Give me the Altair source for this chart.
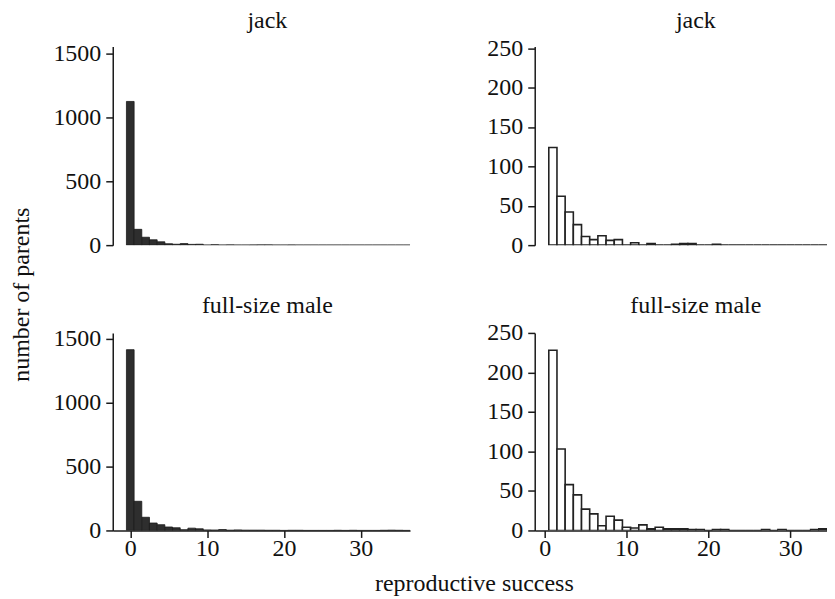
import altair as alt
import pandas as pd

# reproductive success bins (integer values)
rs_bins = [0, 1, 2, 3, 4, 5, 6, 7, 8, 9, 10, 11, 12, 13, 14, 15, 16, 17, 18,
           19, 20, 21, 22, 23, 24, 25, 26, 27, 28, 29, 30, 31, 32, 33, 34, 35, 36]
# number of parents per bin
jack_counts = [1127, 124, 62, 42, 26, 11, 7, 12, 6, 7, 0, 3, 0, 2, 0, 0, 1, 2, 2,
               0, 0, 1, 0, 0, 0, 0, 0, 0, 0, 0, 0, 0, 0, 0, 0, 0, 0]
full_counts = [1414, 228, 103, 58, 45, 27, 21, 6, 18, 13, 4, 3, 7, 2, 4, 2, 2, 2, 1,
               1, 0, 1, 1, 0, 0, 0, 0, 1, 0, 1, 0, 0, 0, 1, 2, 1, 0]
x_ticks = [0, 10, 20, 30]
left_y_ticks = [0, 500, 1000, 1500]
right_y_ticks = [0, 50, 100, 150, 200, 250]

FONT = "Liberation Serif"
FS = 24
INK = "#111111"


def panel(counts, title, dark, ymax, yticks, show_x, xdom, start, w, h, tdx, tdy):
    df = pd.DataFrame({"rs": rs_bins[start:], "n": counts[start:]})
    if show_x:
        xaxis = alt.Axis(values=x_ticks, format="d", tickSize=7, tickWidth=1.5, domainWidth=1.5,
                         domainColor="#1a1a1a", tickColor="#1a1a1a", labelPadding=-1,
                         labelFont=FONT, labelFontSize=FS, labelColor=INK,
                         grid=False, title=None)
    else:
        xaxis = None
    yaxis = alt.Axis(values=yticks, format="d", tickSize=7, tickWidth=1.5, domainWidth=1.5,
                     domainColor="#1a1a1a", tickColor="#1a1a1a", labelPadding=5,
                     labelFont=FONT, labelFontSize=FS, labelColor=INK,
                     grid=False, title=None)
    if dark:
        mk = dict(fill="#2e2e2e", stroke="#1a1a1a", strokeWidth=0.8)
    else:
        mk = dict(fill="white", stroke="#222222", strokeWidth=1.6)
    return (
        alt.Chart(df)
        .transform_calculate(lo="datum.rs - 0.5", hi="datum.rs + 0.5")
        .mark_bar(clip=True, **mk)
        .encode(
            x=alt.X("lo:Q", scale=alt.Scale(domain=xdom, nice=False, zero=False), axis=xaxis),
            x2="hi:Q",
            y=alt.Y("n:Q", scale=alt.Scale(domain=[0, ymax], nice=False), axis=yaxis),
            y2=alt.datum(0),
        )
        .properties(
            width=w,
            height=h,
            title=alt.TitleParams(title, font=FONT, fontSize=FS, fontWeight="normal",
                                  color=INK, anchor="middle", frame="group",
                                  offset=0, dx=tdx, dy=tdy),
        )
    )


tl = panel(jack_counts, "jack", True, 1557, left_y_ticks, False, [-2.28, 36.4], 0, 298, 199, 6, -9)
tr = panel(jack_counts, "jack", False, 252, right_y_ticks, False, [-1.22, 34.5], 1, 293, 199, 15, -3)
bl = panel(full_counts, "full-size male", True, 1545, left_y_ticks, True, [-2.28, 36.4], 0, 298, 198, 6, -9)
br = panel(full_counts, "full-size male", False, 250, right_y_ticks, True, [-1.22, 34.5], 1, 293, 198, 15, -3)

grid = alt.vconcat(
    alt.hconcat(tl, tr, spacing=77),
    alt.hconcat(bl, br, spacing=77),
    spacing=36,
    title=alt.TitleParams("number of parents", orient="left", font=FONT, fontSize=FS,
                          fontWeight="normal", color=INK, anchor="middle", offset=19, dx=-10),
)

chart = alt.vconcat(
    grid,
    title=alt.TitleParams("reproductive success", orient="bottom", font=FONT, fontSize=FS,
                          fontWeight="normal", color=INK, anchor="middle", offset=12, dx=56),
).properties(padding={"left": 1, "top": 0, "right": 0, "bottom": 0}).configure_view(strokeWidth=0)

chart.save("out.html", embed_options={"renderer": "svg", "actions": False})
